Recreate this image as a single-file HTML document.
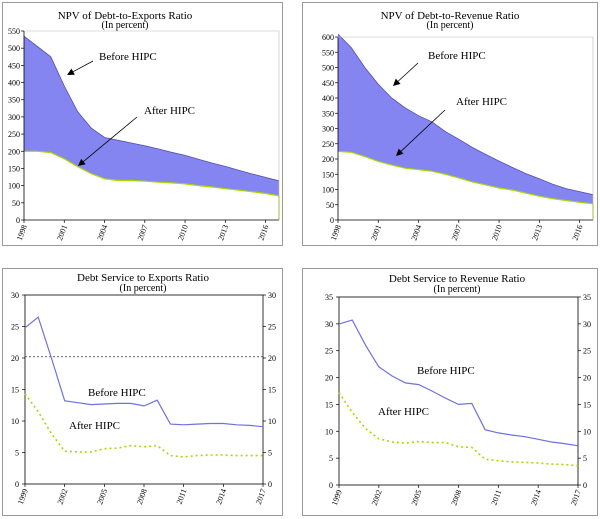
<!DOCTYPE html>
<html><head><meta charset="utf-8"><style>
body{margin:0;background:#fff}
svg{display:block;font-family:"Liberation Serif",serif}
</style></head><body>
<svg id="s" width="600" height="519" viewBox="0 0 600 519" xmlns="http://www.w3.org/2000/svg">
<rect x="2.5" y="2.5" width="280" height="243" fill="none" stroke="#999"/>
<rect x="302.5" y="2.5" width="295" height="243" fill="none" stroke="#999"/>
<rect x="2.5" y="268.5" width="280" height="247" fill="none" stroke="#999"/>
<rect x="302.5" y="268.5" width="295" height="247" fill="none" stroke="#999"/>
<g font-size="11" text-anchor="middle">
<text x="125" y="19">NPV of Debt-to-Exports Ratio</text>
<text x="125" y="28" font-size="10">(In percent)</text>
<text x="450" y="19">NPV of Debt-to-Revenue Ratio</text>
<text x="450" y="28" font-size="10">(In percent)</text>
<text x="143" y="281">Debt Service to Exports Ratio</text>
<text x="143" y="291" font-size="10">(In percent)</text>
<text x="457" y="282">Debt Service to Revenue Ratio</text>
<text x="457" y="292" font-size="10">(In percent)</text>
</g>
<g font-size="11">
<text x="99" y="60">Before HIPC</text>
<text x="144" y="114">After HIPC</text>
<text x="428" y="59">Before HIPC</text>
<text x="456" y="105">After HIPC</text>
<text x="88" y="396">Before HIPC</text>
<text x="69" y="429">After HIPC</text>
<text x="417" y="374">Before HIPC</text>
<text x="378" y="415">After HIPC</text>
</g>
<g id="g"></g>
<g font-size="8" id="lab">
</g>
</svg>
<script>
const g=document.getElementById('g');let h='';
function P(xs,ys){return xs.map((x,i)=>(i?'L':'M')+x.toFixed(1)+','+ys[i].toFixed(1)).join('');}
function area(x0,x1,y0,yTop,vmax,b,a,ticks,years,stepYr){
 const n=b.length,dx=(x1-x0)/(n-1),sc=(y0-yTop)/vmax;
 const xs=b.map((_,i)=>x0+i*dx),yb=b.map(v=>y0-v*sc),ya=a.map(v=>y0-v*sc);
 h+=`<path d="${P(xs,yb)}L${P(xs.slice().reverse(),ya.slice().reverse()).slice(1).replace(/^/,'')}Z" fill="#8585f2"/>`;
 h+=`<path d="${P(xs,yb)}" fill="none" stroke="#5050b0" stroke-width="0.8"/>`;
 h+=`<path d="${P(xs,ya)}L${x1},${y0}" fill="none" stroke="#a8d800" stroke-width="1.2"/>`;
 h+=`<path d="M${x0},${yTop}V${y0}H${x1}" fill="none" stroke="#000" stroke-width="0.8"/>`;
 h+=`<path d="M${x0},${yTop}H${x1}V${y0}" fill="none" stroke="#bbb" stroke-width="0.6"/>`;
 ticks.forEach(v=>{const y=y0-v*sc;h+=`<line x1="${x0-3}" x2="${x0}" y1="${y}" y2="${y}" stroke="#000" stroke-width="0.7"/><text x="${x0-4}" y="${y+3}" font-size="8" text-anchor="end">${v}</text>`;});
 years.forEach((yr,k)=>{const x=x0+k*stepYr*dx;h+=`<line x1="${x}" x2="${x}" y1="${y0}" y2="${y0+3}" stroke="#000" stroke-width="0.7"/><text transform="translate(${x+3},${y0+6}) rotate(-70)" font-size="8" text-anchor="end">${yr}</text>`;});
}
function lines(x0,x1,y0,yTop,vmax,b,a,ticks,years,dash){
 const n=b.length,dx=(x1-x0)/(n-1),sc=(y0-yTop)/vmax;
 const xs=b.map((_,i)=>x0+i*dx);
 h+=`<rect x="${x0}" y="${yTop}" width="${x1-x0}" height="${y0-yTop}" fill="none" stroke="#000" stroke-width="0.8"/>`;
 if(dash!=null){const y=y0-dash*sc;h+=`<line x1="${x0}" x2="${x1}" y1="${y}" y2="${y}" stroke="#333" stroke-dasharray="2,2" stroke-width="0.8"/>`;}
 h+=`<path d="${P(xs,b.map(v=>y0-v*sc))}" fill="none" stroke="#7070e0" stroke-width="1.2"/>`;
 h+=`<path d="${P(xs,a.map(v=>y0-v*sc))}" fill="none" stroke="#a8d800" stroke-width="1.6" stroke-dasharray="2,3"/>`;
 ticks.forEach(v=>{const y=y0-v*sc;h+=`<line x1="${x0-3}" x2="${x0}" y1="${y}" y2="${y}" stroke="#000" stroke-width="0.7"/><line x1="${x1}" x2="${x1+3}" y1="${y}" y2="${y}" stroke="#000" stroke-width="0.7"/><text x="${x0-6}" y="${y+3}" font-size="8" text-anchor="end">${v}</text><text x="${x1+5}" y="${y+3}" font-size="8">${v}</text>`;});
 years.forEach((yr,k)=>{const x=x0+k*3*dx;h+=`<line x1="${x}" x2="${x}" y1="${y0}" y2="${y0+3}" stroke="#000" stroke-width="0.7"/><text transform="translate(${x+3},${y0+6}) rotate(-70)" font-size="8" text-anchor="end">${yr}</text>`;});
}
function arrow(x1,y1,x2,y2){
 const a=Math.atan2(y2-y1,x2-x1),L=7,w=3.5;
 const bx=x2-L*Math.cos(a),by=y2-L*Math.sin(a);
 h+=`<line x1="${x1}" y1="${y1}" x2="${bx}" y2="${by}" stroke="#000" stroke-width="0.8"/>`;
 h+=`<polygon points="${x2},${y2} ${bx+w*Math.sin(a)},${by-w*Math.cos(a)} ${bx-w*Math.sin(a)},${by+w*Math.cos(a)}" fill="#000"/>`;
}
const t1=[0,50,100,150,200,250,300,350,400,450,500,550];
area(24,279,220,31,550,
[535,505,475,390,315,268,240,232,224,216,207,197,188,177,166,156,145,134,124,114],
[200,200,196,178,155,135,120,115,115,113,110,108,105,100,96,91,87,82,77,70],
t1,[1998,2001,2004,2007,2010,2013,2016],3);
const t2=[0,50,100,150,200,250,300,350,400,450,500,550,600];
area(338,593,220,37,600,
[610,565,500,445,400,368,342,322,290,265,238,215,193,172,152,135,117,103,93,83],
[225,222,208,192,180,170,165,160,150,138,125,115,105,98,88,78,70,64,58,53],
t2,[1998,2001,2004,2007,2010,2013,2016],3);
lines(25,263,484,295,30,
[24.8,26.5,20,13.2,12.9,12.6,12.7,12.8,12.8,12.4,13.3,9.5,9.4,9.5,9.6,9.6,9.4,9.3,9.1],
[14.3,11.5,8,5.2,5.1,5.1,5.6,5.7,6.1,5.9,6.1,4.5,4.3,4.5,4.6,4.6,4.5,4.5,4.5],
[0,5,10,15,20,25,30],[1999,2002,2005,2008,2011,2014,2017],20.2);
lines(339,578,485,297,35,
[30,30.7,26,22,20.3,19,18.7,17.5,16.2,15,15.2,10.3,9.7,9.3,9,8.5,8,7.7,7.3],
[17.2,13.5,10.5,8.6,8,7.8,8.1,7.9,7.9,7.1,7,4.8,4.5,4.3,4.2,4.1,3.9,3.8,3.6],
[0,5,10,15,20,25,30,35],[1999,2002,2005,2008,2011,2014,2017],null);
arrow(93,61,67,75);arrow(137,117,78,166);arrow(418,63,393,86);arrow(445,110,396,156);
g.innerHTML=h;
</script>
</body></html>
